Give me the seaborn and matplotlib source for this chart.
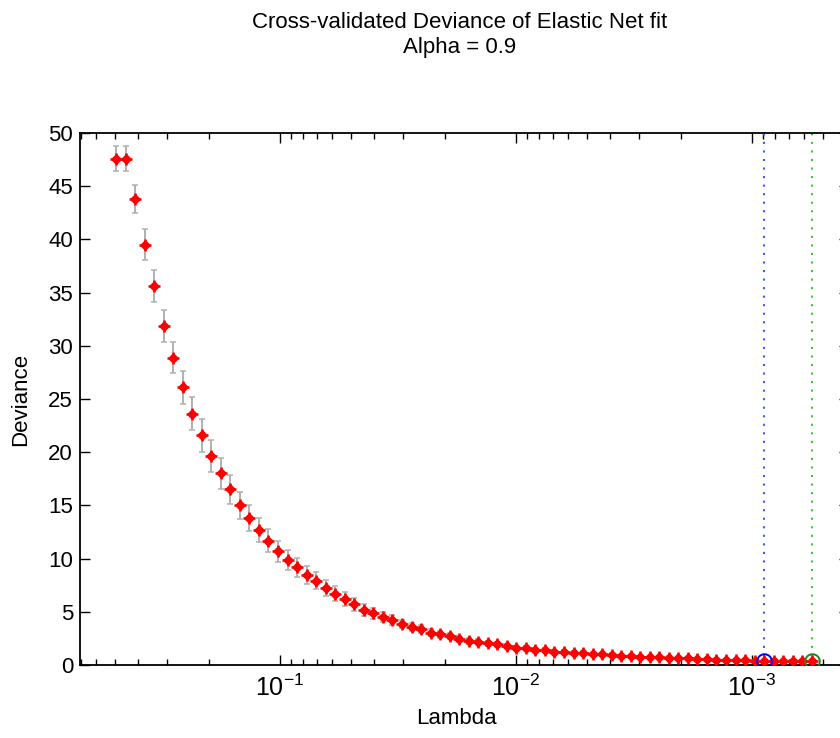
import numpy as np
import pandas as pd
import matplotlib
matplotlib.use("Agg")
import matplotlib.pyplot as plt
import seaborn as sns
from matplotlib.ticker import LogLocator, NullFormatter, MultipleLocator

# ---- data ----
lambdas = [0.4953, 0.4513, 0.4112, 0.3747, 0.3414, 0.3111, 0.2835, 0.2583, 0.2354, 0.2145,
           0.1954, 0.1781, 0.1623, 0.1478, 0.1347, 0.1228, 0.1119, 0.1019, 0.09287, 0.08462,
           0.07711, 0.07026, 0.06402, 0.05833, 0.05315, 0.04843, 0.04413, 0.04021, 0.03664, 0.03339,
           0.03042, 0.02772, 0.02526, 0.02302, 0.02097, 0.01911, 0.01741, 0.01587, 0.01446, 0.01317,
           0.01200, 0.01094, 0.009966, 0.009081, 0.008275, 0.007540, 0.006870, 0.006260, 0.005704, 0.005198,
           0.004736, 0.004316, 0.003932, 0.003583, 0.003265, 0.002975, 0.002711, 0.002470, 0.002251, 0.002051,
           0.001869, 0.001703, 0.001552, 0.001414, 0.001288, 0.001174, 0.001070, 0.0009747, 0.0008881, 0.0008093,
           0.0007374, 0.0006719, 0.0006122, 0.0005579]

deviance = [47.6, 47.6, 43.8, 39.5, 35.6, 31.9, 28.9, 26.1, 23.6, 21.6,
            19.6, 18.0, 16.5, 15.0, 13.8, 12.7, 11.7, 10.7, 9.9, 9.2,
            8.5, 7.9, 7.2, 6.7, 6.2, 5.7, 5.2, 4.86, 4.54, 4.23,
            3.85, 3.54, 3.40, 3.04, 2.88, 2.73, 2.41, 2.26, 2.19, 2.04,
            1.94, 1.79, 1.63, 1.57, 1.41, 1.41, 1.25, 1.25, 1.16, 1.16,
            1.03, 1.03, 0.98, 0.85, 0.80, 0.78, 0.74, 0.72, 0.70, 0.68,
            0.66, 0.55, 0.52, 0.50, 0.48, 0.46, 0.44, 0.42, 0.40, 0.38,
            0.36, 0.35, 0.34, 0.33]

std_err = [1.15, 1.15, 1.3, 1.45, 1.5, 1.5, 1.5, 1.55, 1.55, 1.55,
           1.5, 1.45, 1.4, 1.3, 1.2, 1.1, 1.05, 1.0, 0.95, 0.9,
           0.85, 0.8, 0.75, 0.7, 0.65, 0.6, 0.55, 0.5, 0.47, 0.44,
           0.41, 0.38, 0.36, 0.33, 0.31, 0.29, 0.27, 0.25, 0.23, 0.22,
           0.21, 0.2, 0.19, 0.18, 0.17, 0.16, 0.15, 0.15, 0.14, 0.14,
           0.13, 0.13, 0.12, 0.12, 0.12, 0.11, 0.11, 0.11, 0.1, 0.1,
           0.1, 0.1, 0.09, 0.09, 0.09, 0.09, 0.09, 0.08, 0.08, 0.08,
           0.08, 0.08, 0.08, 0.08]

idx_1se = 68
idx_min = 73

title_lines = ["Cross-validated Deviance of Elastic Net fit", "Alpha = 0.9"]
x_label = "Lambda"
y_label = "Deviance"

df = pd.DataFrame({"lambda": lambdas, "deviance": deviance, "se": std_err})

# ---- style ----
sns.set_theme(style="white")
plt.rcParams["font.family"] = ["Liberation Sans", "DejaVu Sans"]
plt.rcParams["text.color"] = "black"
plt.rcParams["axes.labelcolor"] = "black"
plt.rcParams["axes.unicode_minus"] = False

fig = plt.figure(figsize=(8.4, 7.38), dpi=100)
fig.patch.set_facecolor("white")
ax = fig.add_axes([80 / 840, 73 / 738, 769 / 840, 532 / 738])
ax.set_facecolor("white")
ax.set_xscale("log")

# error bars
ax.errorbar(df["lambda"], df["deviance"], yerr=df["se"], fmt="none",
            ecolor="#b0b0b0", elinewidth=1.4, capsize=2, capthick=1.1, zorder=2)

# red markers
sns.scatterplot(data=df, x="lambda", y="deviance", marker="D", color="red",
                s=34, linewidth=0, ax=ax, legend=False, zorder=3)
sns.scatterplot(data=df, x="lambda", y="deviance", marker="+", color="red",
                s=72, linewidth=1.8, ax=ax, legend=False, zorder=3)

# 1SE and min markers / lines
ax.axvline(lambdas[idx_1se], color="#3a5cff", ls=(0, (1, 3.1)), lw=1.5, zorder=1)
ax.axvline(lambdas[idx_min], color="#33cc33", ls=(0, (1, 3.1)), lw=1.5, zorder=1)
ax.plot([lambdas[idx_1se]], [deviance[idx_1se]], marker="o", ms=10.5, mfc="none",
        mec="blue", mew=1.4, ls="none", zorder=4)
ax.plot([lambdas[idx_min]], [deviance[idx_min]], marker="o", ms=10.5, mfc="none",
        mec="#1a8a1a", mew=1.4, ls="none", zorder=4)

# axes
ax.set_xlim(0.704, 3.88e-4)
ax.set_ylim(0, 50)
ax.yaxis.set_major_locator(MultipleLocator(5))
ax.xaxis.set_major_locator(LogLocator(base=10, numticks=10))
ax.xaxis.set_minor_locator(LogLocator(base=10, subs=np.arange(2, 10), numticks=100))
ax.xaxis.set_minor_formatter(NullFormatter())

for s in ax.spines.values():
    s.set_visible(True)
    s.set_color("black")
    s.set_linewidth(1.3)

ax.tick_params(which="both", direction="in", top=True, right=True, bottom=True, left=True,
               width=1.0, color="black", labelcolor="black")
ax.tick_params(which="major", length=7, labelsize=16)
ax.tick_params(which="minor", length=4)
ax.tick_params(axis="x", which="major", pad=7, labelsize=18)
ax.tick_params(axis="y", which="major", pad=5)

ax.set_xlabel(x_label, fontsize=16, labelpad=4)
ax.set_ylabel(y_label, fontsize=16, labelpad=12)
ax.xaxis.set_label_coords((456 - 80) / 769, -0.08)

fig.text(460 / 840, 1 - 22 / 738, title_lines[0], ha="center", va="center", fontsize=16)
fig.text(460 / 840, 1 - 48 / 738, title_lines[1], ha="center", va="center", fontsize=16)

fig.savefig("out.png", dpi=100, facecolor="white")
